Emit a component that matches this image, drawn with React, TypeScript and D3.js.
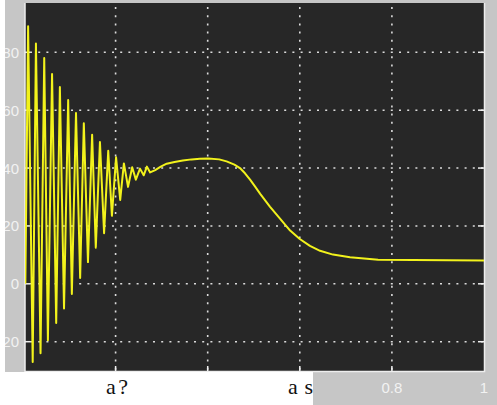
import React, { useEffect, useRef } from "react";
import * as d3 from "d3";

// signal samples (time in s, value)
const times = [
  0.004, 0.01, 0.02, 0.027, 0.037, 0.045, 0.053, 0.062, 0.071, 0.079, 0.088, 0.097, 0.105, 0.114, 0.123,
  0.131, 0.14, 0.149, 0.157, 0.166, 0.175, 0.184, 0.192, 0.201, 0.21, 0.218, 0.227, 0.236, 0.244, 0.253,
  0.261, 0.268, 0.275, 0.286, 0.298, 0.311, 0.328, 0.346, 0.365, 0.383, 0.401, 0.425, 0.441, 0.458, 0.47,
  0.481, 0.492, 0.503, 0.514, 0.535, 0.557, 0.579, 0.6, 0.622, 0.644, 0.672, 0.709, 0.77, 1.0,
];
const values = [
  0, 89, -27, 83, -24, 78, -19.5, 72.5, -13.5, 68, -8.5, 63.5, -3.5, 59, 2,
  55.5, 7.5, 51.5, 12.5, 49, 17.5, 46, 23.5, 43.7, 29, 41.6, 33.5, 40.3, 36, 39.8,
  37.5, 40.5, 38.5, 39.3, 40.5, 41.5, 42.1, 42.6, 43, 43.2, 43.3, 43, 42.3, 41.2, 40,
  38.2, 36, 33.6, 31.1, 26.7, 22.5, 18.4, 15.5, 13.1, 11.4, 10.1, 9.2, 8.3, 8.05,
];

const xTicks = [0, 0.2, 0.4, 0.6, 0.8, 1];
const xTickLabels = ["0", "0.2", "0.4", "0.6", "0.8", "1"];
const yTicks = [-20, 0, 20, 40, 60, 80];
const yTickLabels = ["-20", "0", "20", "40", "60", "80"];
const footerLabels = ["a?", "as"];

export default function App() {
  const ref = useRef<SVGSVGElement>(null);

  useEffect(() => {
    const width = 497,
      height = 405,
      plot = { left: 25, right: 484, top: 3, bottom: 371 },
      patchRight = 313;

    const svg = d3.select(ref.current);
    svg.selectAll("*").remove();

    const x = d3.scaleLinear().domain([0, 1]).range([23.5, 484]);
    const y = d3.scaleLinear().domain([-20, 80]).range([341.7, 52.3]);

    // grey scope frame
    svg.append("rect").attr("x", 0).attr("y", 0).attr("width", width).attr("height", height).attr("fill", "#c6c6c6");
    svg.append("rect").attr("x", 0).attr("y", 0).attr("width", 5).attr("height", height).attr("fill", "#ffffff");

    const defs = svg.append("defs");
    defs.append("clipPath").attr("id", "plot-clip").append("rect")
      .attr("x", plot.left).attr("y", plot.top)
      .attr("width", plot.right - plot.left).attr("height", plot.bottom - plot.top);
    defs.append("clipPath").attr("id", "label-clip").append("rect")
      .attr("x", 5).attr("y", 0).attr("width", 20).attr("height", plot.bottom);

    svg.append("rect")
      .attr("x", plot.left).attr("y", plot.top)
      .attr("width", plot.right - plot.left).attr("height", plot.bottom - plot.top)
      .attr("fill", "#272727");

    // dotted grid
    const grid = svg.append("g").attr("clip-path", "url(#plot-clip)")
      .attr("stroke", "#dcdcdc").attr("stroke-width", 1.6).attr("stroke-dasharray", "2,6.2");
    grid.selectAll(".hgrid").data(yTicks).join("line").attr("class", "hgrid")
      .attr("x1", plot.left + 5).attr("x2", plot.right)
      .attr("y1", (d) => y(d)).attr("y2", (d) => y(d));
    grid.selectAll(".vgrid").data(xTicks.slice(1, -1)).join("line").attr("class", "vgrid")
      .attr("x1", (d) => x(d)).attr("x2", (d) => x(d))
      .attr("y1", plot.top + 4).attr("y2", plot.bottom);

    // inward tick marks
    const ticks = svg.append("g").attr("stroke", "#f0f0f0").attr("stroke-width", 1.5);
    ticks.selectAll(".lt").data(yTicks).join("line").attr("class", "lt")
      .attr("x1", plot.left).attr("x2", plot.left + 5).attr("y1", (d) => y(d)).attr("y2", (d) => y(d));
    ticks.selectAll(".rt").data(yTicks).join("line").attr("class", "rt")
      .attr("x1", plot.right - 6).attr("x2", plot.right).attr("y1", (d) => y(d)).attr("y2", (d) => y(d));
    ticks.selectAll(".bt").data(xTicks.slice(1, -1)).join("line").attr("class", "bt")
      .attr("x1", (d) => x(d)).attr("x2", (d) => x(d)).attr("y1", plot.bottom - 5).attr("y2", plot.bottom);

    // plot border (left, right, bottom)
    svg.append("path")
      .attr("d", `M${plot.left},${plot.top}V${plot.bottom + 0.5}H${plot.right + 0.5}V${plot.top}`)
      .attr("fill", "none").attr("stroke", "#ededed").attr("stroke-width", 1.5);

    // trace
    const pts = times.map((t, i) => [t, values[i]] as [number, number]);
    const line = d3.line<[number, number]>().x((d) => x(d[0])).y((d) => y(d[1]));
    svg.append("path").datum(pts).attr("clip-path", "url(#plot-clip)")
      .attr("d", line).attr("fill", "none").attr("stroke", "#f2f21c")
      .attr("stroke-width", 2).attr("stroke-linejoin", "round");

    // axis labels
    svg.append("g").attr("clip-path", "url(#label-clip)")
      .selectAll("text").data(yTicks).join("text")
      .attr("x", 19).attr("y", (d) => y(d) + 5.5)
      .attr("text-anchor", "end").attr("font-family", "Liberation Sans, Arial, sans-serif")
      .attr("font-size", 15).attr("fill", "#f2f2f2")
      .text((d, i) => yTickLabels[i]);
    // only the labels not hidden by the pasted white patch
    const shownX = xTicks.map((d, i) => ({ d, label: xTickLabels[i] })).filter((o) => x(o.d) > patchRight + 15);
    svg.append("g").selectAll("text").data(shownX).join("text")
      .attr("x", (o) => x(o.d)).attr("y", 393)
      .attr("text-anchor", "middle").attr("font-family", "Liberation Sans, Arial, sans-serif")
      .attr("font-size", 15).attr("fill", "#f2f2f2")
      .text((o) => o.label);

    // white patch pasted over the lower-left corner
    svg.append("rect").attr("x", 0).attr("y", plot.bottom + 1).attr("width", patchRight).attr("height", height - plot.bottom)
      .attr("fill", "#ffffff");
    svg.append("text").attr("x", 106).attr("y", 394)
      .attr("font-family", "Liberation Serif, Times New Roman, serif").attr("font-size", 22)
      .attr("textLength", 22).attr("lengthAdjust", "spacing").attr("fill", "#111")
      .text(footerLabels[0]);
    svg.append("text").attr("x", 288).attr("y", 394)
      .attr("font-family", "Liberation Serif, Times New Roman, serif").attr("font-size", 22)
      .attr("textLength", 25).attr("lengthAdjust", "spacing").attr("fill", "#111")
      .text(footerLabels[1]);
  }, []);

  return <svg ref={ref} width={497} height={405} style={{ position: "absolute", left: 0, top: 0 }} />;
}
